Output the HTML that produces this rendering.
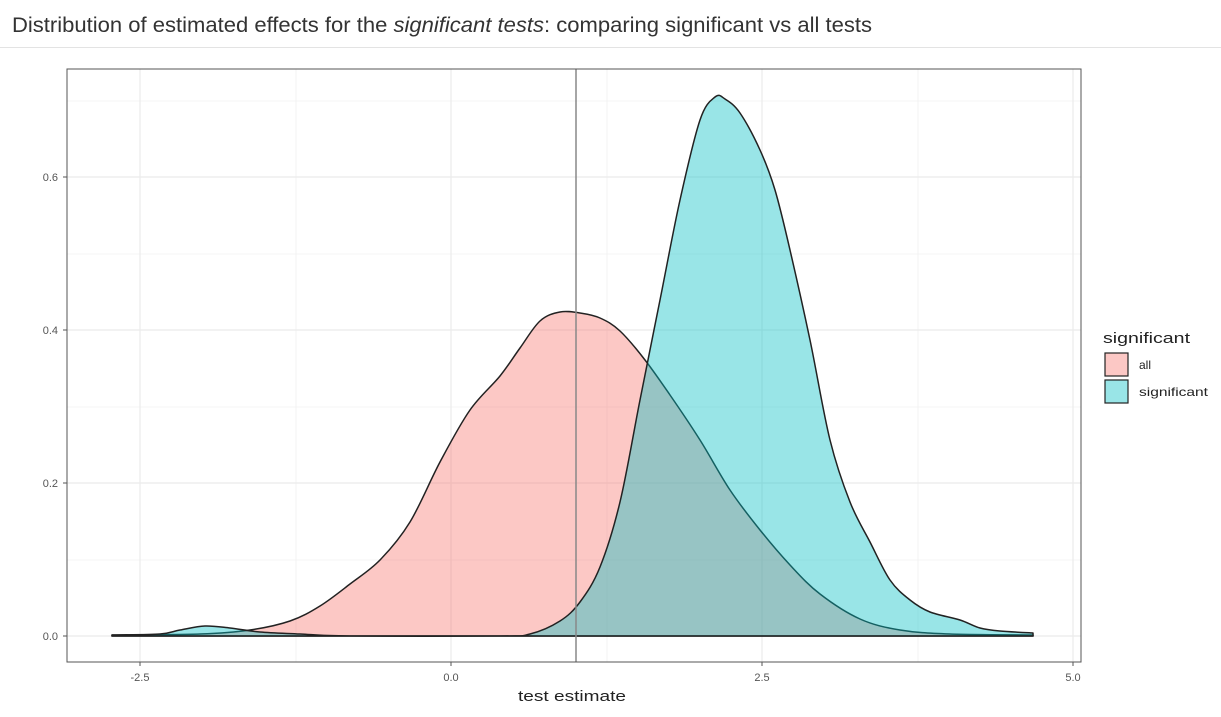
<!DOCTYPE html>
<html><head><meta charset="utf-8"><style>
body{margin:0;background:#fff;width:1221px;height:712px;overflow:hidden;font-family:"Liberation Sans",sans-serif}
</style></head><body>
<svg width="1221" height="712" xmlns="http://www.w3.org/2000/svg" font-family="Liberation Sans, sans-serif">
<text x="12" y="32" font-size="21" fill="#333" textLength="860" lengthAdjust="spacingAndGlyphs">Distribution of estimated effects for the <tspan font-style="italic">significant tests</tspan>: comparing significant vs all tests</text>
<line x1="0" y1="47.5" x2="1221" y2="47.5" stroke="#e3e3e3"/>
<rect x="67" y="69" width="1014" height="593" fill="#fff"/>
<g stroke="#f0f0f0" stroke-width="0.8">
<line x1="296" y1="69" x2="296" y2="662"/><line x1="607" y1="69" x2="607" y2="662"/><line x1="918" y1="69" x2="918" y2="662"/>
<line x1="67" y1="560" x2="1081" y2="560"/><line x1="67" y1="407" x2="1081" y2="407"/><line x1="67" y1="254" x2="1081" y2="254"/><line x1="67" y1="101" x2="1081" y2="101"/>
</g>
<g stroke="#ebebeb" stroke-width="1.2">
<line x1="140" y1="69" x2="140" y2="662"/><line x1="451" y1="69" x2="451" y2="662"/><line x1="762" y1="69" x2="762" y2="662"/><line x1="1073" y1="69" x2="1073" y2="662"/>
<line x1="67" y1="636" x2="1081" y2="636"/><line x1="67" y1="483" x2="1081" y2="483"/><line x1="67" y1="330" x2="1081" y2="330"/><line x1="67" y1="177" x2="1081" y2="177"/>
</g>
<path id="pa" fill="#F8766D" fill-opacity="0.4" stroke="#222" stroke-width="1.5" stroke-linejoin="round"/>
<path id="ps" fill="#00BFC4" fill-opacity="0.4" stroke="#222" stroke-width="1.5" stroke-linejoin="round"/>
<line x1="576" y1="69" x2="576" y2="662" stroke="#888" stroke-width="1.5"/>
<rect x="67" y="69" width="1014" height="593" fill="none" stroke="#555" stroke-width="1"/>
<g stroke="#555"><line x1="140" y1="662" x2="140" y2="666"/><line x1="451" y1="662" x2="451" y2="666"/><line x1="762" y1="662" x2="762" y2="666"/><line x1="1073" y1="662" x2="1073" y2="666"/>
<line x1="63" y1="636" x2="67" y2="636"/><line x1="63" y1="483" x2="67" y2="483"/><line x1="63" y1="330" x2="67" y2="330"/><line x1="63" y1="177" x2="67" y2="177"/></g>
<g font-size="11" fill="#555" text-anchor="middle"><text x="140" y="681">-2.5</text><text x="451" y="681">0.0</text><text x="762" y="681">2.5</text><text x="1073" y="681">5.0</text></g>
<g font-size="11" fill="#555" text-anchor="end"><text x="58" y="640">0.0</text><text x="58" y="487">0.2</text><text x="58" y="334">0.4</text><text x="58" y="181">0.6</text></g>
<text x="518" y="701" font-size="15" fill="#222" textLength="108" lengthAdjust="spacingAndGlyphs">test estimate</text>
<text x="1103" y="343" font-size="15" fill="#222" textLength="87" lengthAdjust="spacingAndGlyphs">significant</text>
<rect x="1105" y="353" width="23" height="23" fill="#F8766D" fill-opacity="0.4" stroke="#222" stroke-width="1.2"/>
<rect x="1105" y="380" width="23" height="23" fill="#00BFC4" fill-opacity="0.4" stroke="#222" stroke-width="1.2"/>
<text x="1139" y="369" font-size="12" fill="#222">all</text>
<text x="1139" y="396" font-size="12" fill="#222" textLength="69" lengthAdjust="spacingAndGlyphs">significant</text>
</svg>
<script>
function cr(p){var d="M"+p[0][0]+","+p[0][1];for(var i=0;i<p.length-1;i++){var a=p[Math.max(i-1,0)],b=p[i],c=p[i+1],e=p[Math.min(i+2,p.length-1)];
d+=" C"+(b[0]+(c[0]-a[0])/6).toFixed(1)+","+(b[1]+(c[1]-a[1])/6).toFixed(1)+" "+(c[0]-(e[0]-b[0])/6).toFixed(1)+","+(c[1]-(e[1]-b[1])/6).toFixed(1)+" "+c[0]+","+c[1];}
return d+" L"+p[p.length-1][0]+",636 L"+p[0][0]+",636 Z";}
var A=[[112,635],[200,634],[250,630],[290,621],[320,606],[350,584],[380,560],[410,522],[440,462],[470,410],[500,376],[520,348],[540,321],[560,312],[580,313],[600,318],[620,331],[645,360],[670,395],[700,440],[730,490],[760,530],[790,565],[820,594],[860,619],[900,630],[950,634],[1033,635]];
var S=[[112,635],[160,634],[180,630],[205,626],[230,628],[260,632],[300,634],[350,636],[500,636],[530,634],[560,621],[580,602],[600,567],[620,502],[640,400],[660,300],[680,200],[700,120],[715,97],[725,99],[740,113],[760,150],[775,190],[790,250],[810,340],[830,440],[850,502],[870,542],[890,580],[910,600],[930,612],[960,620],[980,628],[1000,631],[1033,633]];
document.getElementById("pa").setAttribute("d",cr(A));
document.getElementById("ps").setAttribute("d",cr(S));
</script>
</body></html>
